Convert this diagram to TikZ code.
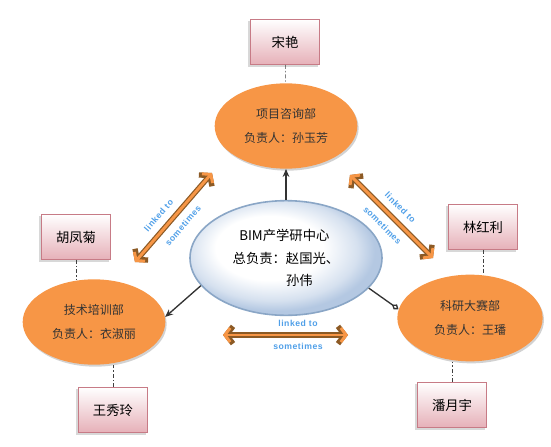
\documentclass[tikz,border=0pt]{standalone}
\usepackage{fontspec}
\setmainfont{Noto Sans CJK SC}
\newfontfamily\linkfont[LetterSpace=6]{Liberation Sans}
\usetikzlibrary{shapes.geometric,arrows.meta,shadows}

\definecolor{deptorange}{HTML}{F79646}
\definecolor{boxpink}{HTML}{E6B0B8}
\definecolor{boxline}{HTML}{C77B86}
\definecolor{hubblue}{HTML}{B4C8E2}
\definecolor{hubline}{HTML}{8AA6C6}
\definecolor{linkbrown}{HTML}{8C5A25}
\definecolor{linkblue}{HTML}{4F9FE8}

\pgfdeclareradialshading{hubshade}{\pgfpoint{-6bp}{6bp}}{color(0bp)=(white); color(14bp)=(white); color(22bp)=(hubblue!55); color(26bp)=(hubblue); color(50bp)=(hubblue)}

\begin{document}
\begin{tikzpicture}[x=0.75pt,y=-0.75pt,
	dept/.style={ ellipse, fill=deptorange, inner sep=0pt, minimum width=107pt, minimum height=64pt, align=center, text=black!80, font=\fontsize{9}{18.5}\selectfont, drop shadow={shadow xshift=1pt, shadow yshift=-1.5pt, fill=black!35} },
	hub/.style={ ellipse, draw=hubline, line width=1.2pt, shading=hubshade, inner sep=0pt, minimum width=144pt, minimum height=86pt },
	person/.style={ rectangle, draw=boxline, thin, top color=white, bottom color=boxpink, minimum width=52pt, minimum height=34pt, font=\fontsize{10}{12}\selectfont, drop shadow={shadow xshift=-1.5pt, shadow yshift=-1.5pt, fill=black!30} },
	tie/.style={ black!75, thin, dash pattern=on 3pt off 1.5pt on 1pt off 1.5pt },
	feed/.style={ black!80, line width=1pt },
	linkout/.style={ linkbrown, line width=4pt, {Straight Barb[length=5pt,width=13pt]}-{Straight Barb[length=5pt,width=13pt]} },
	linkin/.style={ deptorange, line width=2.2pt, {Straight Barb[length=4pt,width=10.5pt]}-{Straight Barb[length=4pt,width=10.5pt]} },
	tag/.style={ sloped, text=linkblue, font=\linkfont\bfseries\fontsize{6.5}{7}\selectfont }
]
\useasboundingbox (0,0) rectangle (551,447);

\node at (286,258) (hub) [hub] {};
\node at (286,258) [align=left, font=\fontsize{10}{17}\selectfont] {\hspace*{5pt}BIM产学研中心\\总负责：赵国光、\\\phantom{总负责：}孙伟};

\node at (286,126) (d1) [dept] {项目咨询部\\负责人：孙玉芳};
\node at (94,322) (d2) [dept] {技术培训部\\负责人：衣淑丽};
\node at (470,318) (d3) [dept, minimum width=109pt, minimum height=65pt] {科研大赛部\\负责人：王璠};

\node at (285,42) (p1) [person] {宋艳};
\node at (76,237) (p2) [person] {胡凤菊};
\node at (113,410) (p3) [person] {王秀玲};
\node at (483,227) (p4) [person] {林红利};
\node at (452,405) (p5) [person] {潘月宇};

\draw[tie] (p1) to (d1);
\foreach \p/\d/\a in {p2/d2/north,p3/d2/south,p4/d3/north,p5/d3/south}
	\draw[tie] (\p) to (\p |- \d.\a);

\draw[feed, -{Stealth[open,length=6pt,width=5pt]}] (hub) to (d1);
\draw[feed, -{Stealth[open,length=6pt,width=5pt]}] (hub.198) to (d2.4);
\draw[feed, -{Diamond[open,length=6pt,width=4.5pt]}] (hub.340) to (d3.173);

% linked to / sometimes
\coordinate (k1a) at (135,262);
\coordinate (k1b) at (212,173);
\coordinate (k2a) at (350,175);
\coordinate (k2b) at (433,258);
\coordinate (k3a) at (223,335);
\coordinate (k3b) at (348,335);
\foreach \a/\b in {k1a/k1b,k2a/k2b,k3a/k3b} {
	\draw[linkout] (\a) to (\b);
	\draw[linkin] (\a) to (\b);
}
\path (k1a) to node[tag, pos=0.43, above=3.5pt] {linked to} node[tag, pos=0.5, below=3.5pt] {sometimes} (k1b);
\path (k2a) to node[tag, pos=0.5, above=3.5pt] {linked to} node[tag, pos=0.5, below=3.5pt] {sometimes} (k2b);
\path (k3a) to node[tag, pos=0.6, above=3pt] {linked to} node[tag, pos=0.6, below=3pt] {sometimes} (k3b);

\end{tikzpicture}
\end{document}
